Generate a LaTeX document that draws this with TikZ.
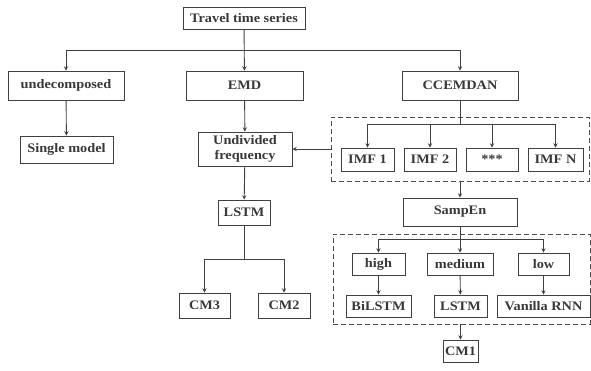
\documentclass[tikz,border=0pt]{standalone}
\usepackage{fontspec}
\setmainfont[FakeStretch=1.1]{Liberation Serif}
\usepackage{tikz}

\tikzset{
  blk/.style={draw=black!75, line width=0.9pt, text=black!78, font=\bfseries\fontsize{13}{15.5}\selectfont,
    inner sep=1pt, minimum height=22pt, align=center},
  grp/.style={draw=black!70, line width=0.9pt, dash pattern=on 5pt off 3pt, inner sep=0pt}
}

\begin{document}
\begin{tikzpicture}[x=1pt,y=-1pt,>=stealth,line width=0.9pt,draw=black!75]
            \useasboundingbox (0,0) rectangle (591,370);
            \node[blk,minimum width=122pt] (T) at (244,18) {Travel time series};
            \node[blk,minimum width=116pt,minimum height=29pt] (U) at (66,85.5) {undecomposed};
            \node[blk,minimum width=117pt,minimum height=29pt] (E) at (244.5,85.5) {EMD};
            \node[blk,minimum width=116pt,minimum height=29pt] (C) at (460,85.5) {CCEMDAN};
            \node[blk,minimum width=93pt,minimum height=27pt] (S) at (66.5,149.5) {Single model};
            \node[blk,minimum width=94pt,minimum height=34pt] (F) at (245,149) {Undivided\\frequency};
            % decomposition group
            \node[grp,minimum width=258pt,minimum height=64pt] (D1) at (460,149) {};
            \node[blk,minimum width=53pt,minimum height=23pt] (I1) at (367.5,159.5) {IMF 1};
            \node[blk,minimum width=52pt,minimum height=23pt] (I2) at (430,159.5) {IMF 2};
            \node[blk,minimum width=52pt,minimum height=23pt] (I3) at (492,159.5) {***};
            \node[blk,minimum width=55pt,minimum height=23pt] (IN) at (555.5,159.5) {IMF N};
            \node[blk,minimum width=114pt,minimum height=28pt] (P) at (460,212) {SampEn};
            % prediction group
            \node[grp,minimum width=257pt,minimum height=90pt] (D2) at (461.5,279) {};
            \node[blk,minimum width=53pt] (Hi) at (378.5,264) {high};
            \node[blk,minimum width=66pt] (Me) at (460,264) {medium};
            \node[blk,minimum width=51pt] (Lo) at (543.5,264) {low};
            \node[blk,minimum width=65pt] (Bi) at (378.5,306) {BiLSTM};
            \node[blk,minimum width=53pt] (L2) at (460.5,306) {LSTM};
            \node[blk,minimum width=93pt] (V) at (543.5,306) {Vanilla RNN};
            \node[blk,minimum width=35pt] (M1) at (460.5,351) {CM1};
            \node[blk,minimum width=52pt,minimum height=25pt] (L1) at (244,212.5) {LSTM};
            \node[blk,minimum width=51pt,minimum height=25pt] (M3) at (204.5,305.5) {CM3};
            \node[blk,minimum width=52pt,minimum height=25pt] (M2) at (284,305.5) {CM2};
            \coordinate (b1) at (244,50);
            \coordinate (b2) at (460,124);
            \coordinate (b3) at (460,239);
            \coordinate (b4) at (244,259);
            \draw[->] (T) -- (E);
            \draw[->] (b1) -| (U);
            \draw[->] (b1) -| (C);
            \draw[->] (U) -- (S);
            \draw[->] (E) -- (F);
            \draw (C) -- (b2);
            \draw[->] (b2) -| (I1);
            \draw[->] (b2) -| (I2);
            \draw[->] (b2) -| (I3);
            \draw[->] (b2) -| (IN);
            \draw[->] (D1.west) -- (F.east);
            \draw[->] (D1.south) -- (P.north);
            \draw (P) -- (b3);
            \draw[->] (b3) -| (Hi);
            \draw[->] (b3) -- (Me);
            \draw[->] (b3) -| (Lo);
            \draw[->] (Hi) -- (Bi);
            \draw[->] (Me) -- (L2);
            \draw[->] (Lo) -- (V);
            \draw[->] (M1.north |- D2.south) -- (M1);
            \draw[->] (F) -- (L1);
            \draw (L1) -- (b4);
            \draw[->] (b4) -| (M3);
            \draw[->] (b4) -| (M2);
        \end{tikzpicture}
\end{document}
